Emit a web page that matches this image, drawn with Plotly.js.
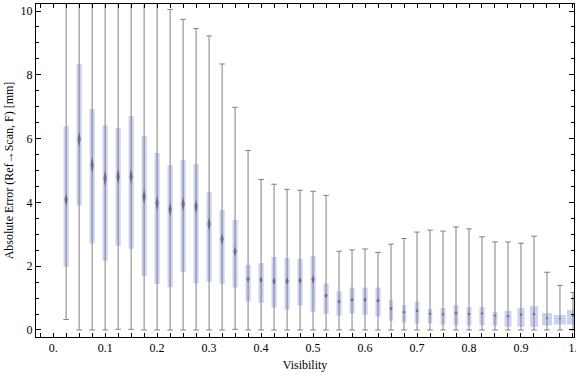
<!DOCTYPE html>
<html>
<head>
<meta charset="utf-8">
<script src="https://cdn.plot.ly/plotly-3.0.1.min.js"></script>
<style>html,body{margin:0;padding:0;background:#fff;}#chart{width:576px;height:377px;}</style>
</head>
<body>
<div id="chart"></div>
<script>
// Visibility bins (category centres)
const visibility = [0.025,0.05,0.075,0.1,0.125,0.15,0.175,0.2,0.225,0.25,
                    0.275,0.3,0.325,0.35,0.375,0.4,0.425,0.45,0.475,0.5,
                    0.525,0.55,0.575,0.6,0.625,0.65,0.675,0.7,0.725,0.75,
                    0.775,0.8,0.825,0.85,0.875,0.9,0.925,0.95,0.975,1.0];
// Box-whisker statistics, absolute error [mm]
const lowerWhisker = [0.33,0,0,0,0.02,0.02,0,0,0,0,
                      0,0,0,0.02,0,0,0,0,0,0,
                      0,0,0,0,0,0,0,0,0,0,
                      0,0,0,0,0,0,0,0,0,0];
const q1 = [1.98,3.90,2.71,2.17,2.64,2.55,1.69,1.44,1.34,1.83,
            1.46,1.51,1.45,1.33,0.89,0.85,0.70,0.64,0.77,0.57,
            0.51,0.45,0.51,0.48,0.42,0.29,0.23,0.20,0.21,0.17,
            0.14,0.14,0.15,0.14,0.10,0.10,0.10,0.14,0.17,0.17];
const median = [4.08,5.98,5.17,4.75,4.81,4.81,4.18,3.97,3.78,3.95,
                3.87,3.32,2.85,2.46,1.59,1.57,1.53,1.53,1.55,1.59,
                1.08,0.89,0.95,0.95,0.92,0.67,0.56,0.60,0.51,0.49,
                0.53,0.50,0.52,0.45,0.43,0.48,0.50,0.37,0.36,0.45];
const q3 = [6.39,8.34,6.93,6.42,6.33,6.71,6.08,5.55,5.17,5.33,
            5.20,4.32,3.76,3.45,2.04,2.10,2.29,2.26,2.23,2.32,
            1.46,1.21,1.33,1.33,1.33,0.94,0.78,0.88,0.66,0.69,
            0.78,0.72,0.72,0.56,0.60,0.69,0.75,0.53,0.47,0.63];
const upperWhisker = [11,11,11,11,11,11,11,11,10.05,9.74,
                      9.45,9.22,8.34,6.98,5.63,4.72,4.57,4.41,4.38,4.35,
                      4.22,2.47,2.51,2.54,2.43,2.69,2.87,3.07,3.13,3.10,
                      3.23,3.17,2.92,2.76,2.76,2.72,2.94,1.81,1.40,1.18];
// median confidence notch (half height, mm)
const notch = [0.20,0.235,0.26,0.26,0.24,0.24,0.24,0.235,0.22,0.22,
               0.22,0.22,0.18,0.16,0.09,0.10,0.12,0.12,0.11,0.13,
               0.075,0.06,0.065,0.065,0.07,0.05,0.045,0.05,0.04,0.04,
               0.05,0.045,0.045,0.035,0.04,0.045,0.05,0.03,0.025,0.035];
// box widths (visibility units)
const boxWidths = [0.010,0.010,0.010,0.010,0.010,0.010,0.010,0.010,0.010,0.010,
                   0.010,0.010,0.010,0.010,0.010,0.010,0.010,0.010,0.010,0.010,
                   0.010,0.010,0.010,0.010,0.010,0.008,0.0085,0.009,0.0085,0.0095,
                   0.0095,0.0095,0.010,0.0095,0.0135,0.0135,0.0155,0.019,0.023,0.023];
const xTickVals = [0,0.1,0.2,0.3,0.4,0.5,0.6,0.7,0.8,0.9,1.0];
const xTickText = ['0.','0.1','0.2','0.3','0.4','0.5','0.6','0.7','0.8','0.9','1.'];

const boxColor = '#ccd2f4';
const whiskerColor = '#808080';
const notchColor = 'rgba(95,95,105,0.8)';
const notchHalfWidth = 0.0032;

// whiskers
const wx = [], wy = [];
visibility.forEach((v, i) => { wx.push(v, v, null); wy.push(lowerWhisker[i], upperWhisker[i], null); });
// caps
const cx = [], cy = [];
visibility.forEach((v, i) => { cx.push(v, v); cy.push(lowerWhisker[i], upperWhisker[i]); });
// notches (diamonds)
const nx = [], ny = [];
visibility.forEach((v, i) => {
  const m = median[i], h = notch[i];
  nx.push(v, v + notchHalfWidth, v, v - notchHalfWidth, v, null);
  ny.push(m - h, m, m + h, m, m - h, null);
});

const traces = [
  {type:'scatter', mode:'lines', x:wx, y:wy, line:{color:whiskerColor, width:1}, hoverinfo:'skip', showlegend:false},
  {type:'scatter', mode:'markers', x:cx, y:cy, marker:{symbol:'line-ew', size:4, line:{color:whiskerColor, width:1}}, hoverinfo:'skip', showlegend:false},
  {type:'bar', x:visibility, base:q1, y:q3.map((v,i)=>v-q1[i]), width:boxWidths, cliponaxis:false,
   marker:{color:boxColor, line:{width:0}}, showlegend:false},
  {type:'scatter', mode:'lines', x:nx, y:ny, fill:'toself', fillcolor:notchColor, line:{width:0, color:notchColor}, hoverinfo:'skip', showlegend:false}
];

const font = {family:'"Liberation Serif", "Times New Roman", serif', size:12, color:'#000'};
const layout = {
  width:576, height:377,
  margin:{l:36, r:2, t:4, b:40},
  paper_bgcolor:'#fff', plot_bgcolor:'#fff',
  font:font,
  barmode:'overlay',
  showlegend:false,
  xaxis:{
    range:[-0.033, 1.002], showgrid:false, zeroline:false,
    showline:true, linecolor:'#000', linewidth:1, mirror:'ticks',
    ticks:'inside', ticklen:4, tickcolor:'#000', tickwidth:1,
    tickvals:xTickVals, ticktext:xTickText, tickfont:font, ticklabeloverflow:'allow',
    minor:{dtick:0.025, tick0:0, ticks:'inside', ticklen:4, tickcolor:'#000', showgrid:false},
    title:{text:'Visibility', font:font, standoff:6}
  },
  yaxis:{
    range:[-0.22, 10.22], showgrid:false, zeroline:false,
    showline:true, linecolor:'#000', linewidth:1, mirror:'ticks',
    ticks:'inside', ticklen:5, tickcolor:'#000', tickwidth:1,
    tick0:0, dtick:2, tickfont:font,
    minor:{dtick:0.5, tick0:0, ticks:'inside', ticklen:3, tickcolor:'#000', showgrid:false},
    title:{text:'Absolute Error (Ref\u2192Scan, F) [mm]', font:font, standoff:4}
  }
};
Plotly.newPlot('chart', traces, layout, {staticPlot:true, displayModeBar:false});
</script>
</body>
</html>
